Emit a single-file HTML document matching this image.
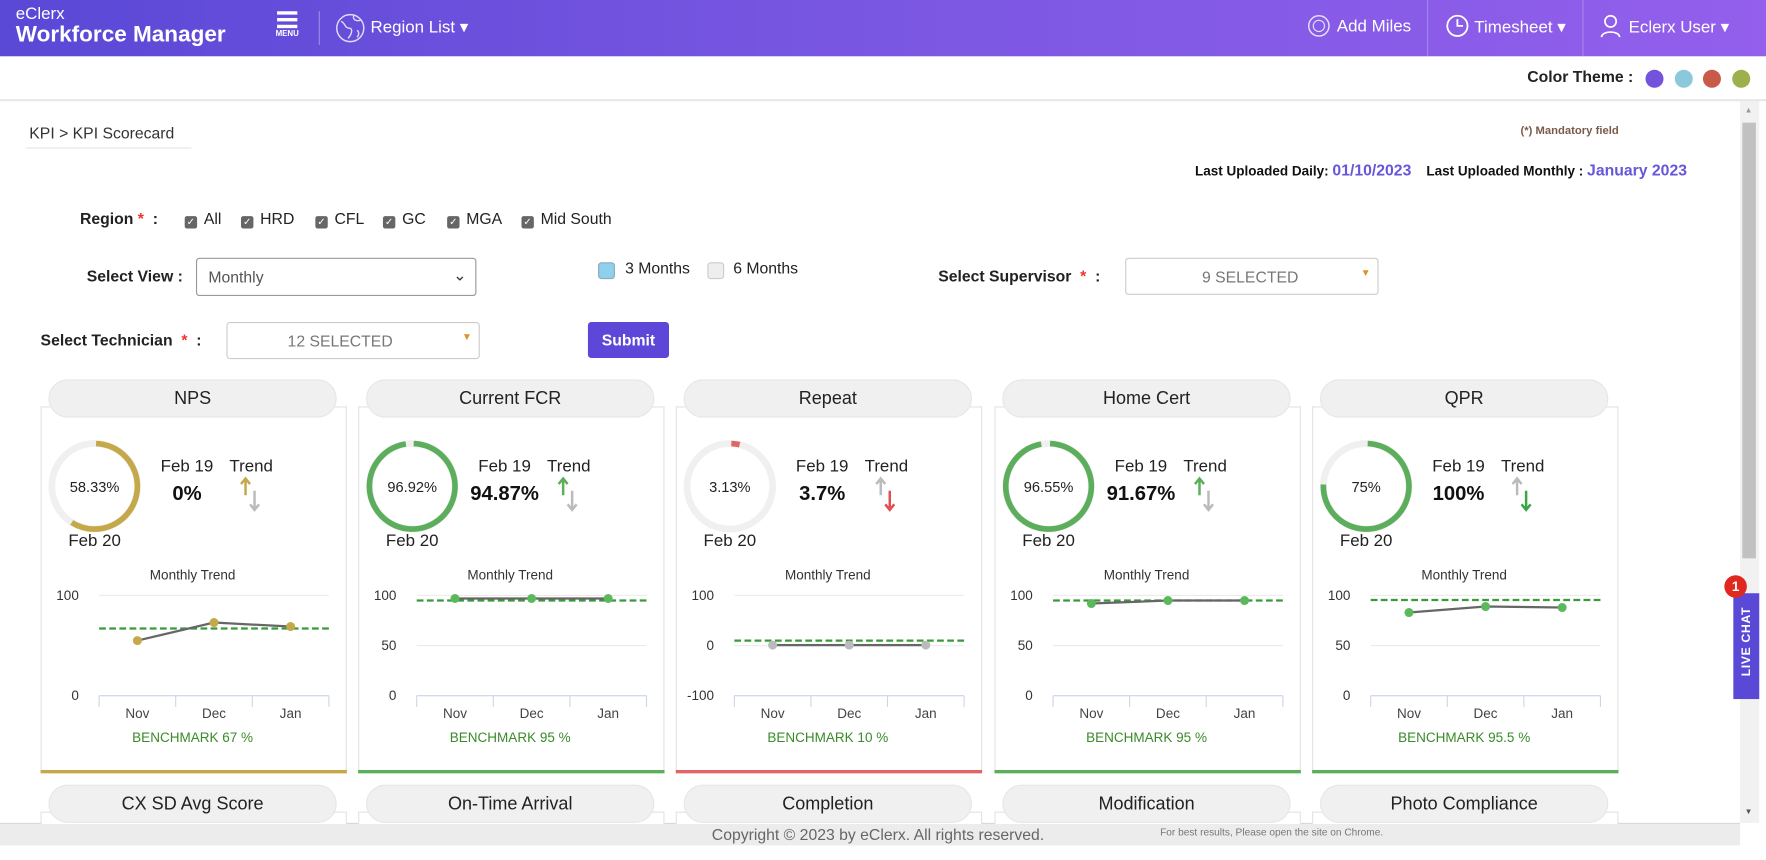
<!DOCTYPE html>
<html><head><meta charset="utf-8"><style>
html,body{margin:0;padding:0;width:1766px;height:860px;overflow:hidden;background:#fff;font-family:"Liberation Sans",Arial,sans-serif;}
#root{position:absolute;left:0;top:0;width:1568px;height:764px;transform:scale(1.12628,1.1257);transform-origin:0 0;}
.abs{position:absolute;}
.hdr{left:0;top:0;width:1568px;height:50px;background:linear-gradient(90deg,#5a48d6,#7a57e2 50%,#935fec);}
.w{color:#fff;}
.lbl{font-size:14px;color:#222;font-weight:bold;}
.box{border:1px solid #ccc;border-radius:3px;background:#fff;}
.cb{width:11px;height:11px;background:#666;border-radius:2px;color:#fff;font-size:9px;line-height:11px;text-align:center;}
.tab{height:34px;background:#f0f0f0;border-radius:17px;text-align:center;line-height:34px;font-size:16px;color:#222;border:1px solid #e6e6e6;box-sizing:border-box;}
.card{border:1px solid #e3e3e3;border-bottom:none;background:#fff;}
</style></head><body>
<div id="root">
<div class="abs hdr"></div>
<div class="abs w" style="left:14px;top:4px;font-size:15px;">eClerx</div>
<div class="abs w" style="left:14px;top:20px;font-size:20px;font-weight:bold;">Workforce Manager</div>
<div class="abs" style="left:243px;top:10px;width:24px;">
 <div style="margin-left:3px;width:18px;height:3px;background:#fff;margin-bottom:3px"></div><div style="margin-left:3px;width:18px;height:3px;background:#fff;margin-bottom:3px"></div><div style="margin-left:3px;width:18px;height:3px;background:#fff;"></div>
 <div style="color:#fff;font-size:7px;font-weight:bold;text-align:center;margin-top:2px">MENU</div></div>
<div class="abs" style="left:283px;top:10px;width:1px;height:30px;background:rgba(255,255,255,.35)"></div>
<svg class="abs" style="left:297px;top:11px" width="28" height="28"><circle cx="14" cy="14" r="12" fill="none" stroke="#fff" stroke-width="1.3" opacity=".8"/><path d="M6 8c4 2 3 6 7 6s2 6 -1 9M17 3c-1 4 3 5 6 4M20 16c2 1 2 4 0 6" fill="none" stroke="#fff" stroke-width="1.2" opacity=".8"/></svg>
<div class="abs w" style="left:329px;top:15px;font-size:15px;">Region List ▾</div>
<svg class="abs" style="left:1160px;top:12px" width="22" height="22"><circle cx="11" cy="11" r="9" fill="none" stroke="#fff" stroke-width="1.3" opacity=".8"/><circle cx="11" cy="11" r="5" fill="none" stroke="#fff" opacity=".8"/></svg>
<div class="abs w" style="left:1187px;top:15px;font-size:15px;">Add Miles</div>
<div class="abs" style="left:1267px;top:0;width:1px;height:50px;background:rgba(255,255,255,.25)"></div>
<svg class="abs" style="left:1283px;top:12px" width="22" height="22"><circle cx="11" cy="11" r="9" fill="none" stroke="#fff" stroke-width="1.6"/><path d="M11 5v6h5" fill="none" stroke="#fff" stroke-width="1.6"/></svg>
<div class="abs w" style="left:1309px;top:15px;font-size:15px;">Timesheet ▾</div>
<div class="abs" style="left:1405px;top:0;width:1px;height:50px;background:rgba(255,255,255,.25)"></div>
<svg class="abs" style="left:1420px;top:12px" width="20" height="22"><circle cx="10" cy="7" r="5" fill="none" stroke="#fff" stroke-width="1.5"/><path d="M2 21c0-6 16-6 16 0" fill="none" stroke="#fff" stroke-width="1.5"/></svg>
<div class="abs w" style="left:1446px;top:15px;font-size:15px;">Eclerx User ▾</div>

<div class="abs" style="left:1356px;top:60px;font-size:14px;font-weight:bold;color:#222">Color Theme :</div>
<div class="abs" style="left:1461px;top:62px;width:16px;height:16px;border-radius:50%;background:#7452dc"></div>
<div class="abs" style="left:1487px;top:62px;width:16px;height:16px;border-radius:50%;background:#8cc8dc"></div>
<div class="abs" style="left:1512px;top:62px;width:16px;height:16px;border-radius:50%;background:#c85a48"></div>
<div class="abs" style="left:1538px;top:62px;width:16px;height:16px;border-radius:50%;background:#9cb04c"></div>
<div class="abs" style="left:0;top:88px;width:1568px;height:2px;background:#e8e8e8"></div>
<div class="abs" style="left:1545px;top:90px;width:17px;height:641px;background:#f1f1f1"><div style="position:absolute;left:4px;top:5px;font-size:7px;color:#999">▲</div><div style="position:absolute;left:2px;top:19px;width:12px;height:387px;background:#c1c1c1"></div><div style="position:absolute;left:4px;top:628px;font-size:7px;color:#555">▼</div></div>

<div class="abs" style="left:26px;top:110px;font-size:14px;color:#333">KPI &gt; KPI Scorecard</div>
<div class="abs" style="left:23px;top:131px;width:147px;height:1px;background:#e6e6e6"></div>
<div class="abs" style="left:1350px;top:111px;font-size:10px;font-weight:bold;color:#7a5a4a">(*) Mandatory field</div>
<div class="abs" style="left:1061px;top:143px;font-size:12px;font-weight:bold;color:#111;white-space:nowrap">Last Uploaded Daily: <span style="color:#6656d8;font-size:14px">01/10/2023</span>&nbsp;&nbsp;&nbsp; Last Uploaded Monthly : <span style="color:#6656d8;font-size:14px">January 2023</span></div>

<div class="abs lbl" style="left:71px;top:186px;font-weight:bold">Region <span style="color:#e33">*</span> &nbsp;:</div>
<div id="regions"></div>
<div class="abs lbl" style="left:77px;top:237px">Select View :</div>
<div class="abs box" style="left:174px;top:229px;width:247px;height:32px;border-color:#999"><span style="position:absolute;left:10px;top:8px;font-size:14px;color:#555">Monthly</span><span style="position:absolute;right:8px;top:6px;font-size:14px;color:#333">⌄</span></div>
<div class="abs" style="left:531px;top:233px;width:13px;height:13px;border:1px solid #8ab;border-radius:3px;background:#8fd0ee"></div>
<div class="abs" style="left:555px;top:230px;font-size:14px;color:#222">3 Months</div>
<div class="abs" style="left:628px;top:233px;width:13px;height:13px;border:1px solid #ccc;border-radius:3px;background:#eee"></div>
<div class="abs" style="left:651px;top:230px;font-size:14px;color:#222">6 Months</div>
<div class="abs lbl" style="left:833px;top:237px">Select Supervisor &nbsp;<span style="color:#e33">*</span> &nbsp;:</div>
<div class="abs box" style="left:999px;top:229px;width:223px;height:31px"><span style="position:absolute;left:0;width:220px;text-align:center;top:8px;font-size:14px;color:#777">9 SELECTED</span><span style="position:absolute;right:6px;top:7px;font-size:9px;color:#e0902a">▼</span></div>
<div class="abs lbl" style="left:36px;top:294px">Select Technician &nbsp;<span style="color:#e33">*</span> &nbsp;:</div>
<div class="abs box" style="left:201px;top:286px;width:223px;height:31px"><span style="position:absolute;left:0;width:200px;text-align:center;top:8px;font-size:14px;color:#777">12 SELECTED</span><span style="position:absolute;right:6px;top:7px;font-size:9px;color:#e0902a">▼</span></div>
<div class="abs" style="left:522px;top:286px;width:72px;height:32px;background:#5c47d8;border-radius:3px;color:#fff;font-weight:bold;font-size:14px;text-align:center;line-height:32px">Submit</div>

<div id="cards"></div>
<div id="row2"></div>
<div class="abs" style="left:0;top:731px;width:1545px;height:19px;background:#ececec;border-top:1px solid #d8d8d8"></div>
<div class="abs" style="left:632px;top:733px;font-size:14px;color:#666">Copyright © 2023 by eClerx. All rights reserved.</div>
<div class="abs" style="left:1030px;top:734px;font-size:9px;color:#777">For best results, Please open the site on Chrome.</div>
<div class="abs" style="left:1539px;top:527px;width:23px;height:94px;background:#5a48d6"><div style="position:absolute;left:-30px;top:37px;width:84px;transform:rotate(-90deg);color:#fff;font-size:11px;font-weight:bold;text-align:center;letter-spacing:.5px">LIVE CHAT</div></div>
<div class="abs" style="left:1531px;top:511px;width:20px;height:20px;border-radius:50%;background:#e0281e;color:#fff;font-size:12px;font-weight:bold;text-align:center;line-height:20px">1</div>
</div>
<script>
const kpiNames=["NPS","Current FCR","Repeat","Home Cert","QPR"];
const currentVals=[58.33,96.92,3.13,96.55,75];
const feb19Vals=["0%","94.87%","3.7%","91.67%","100%"];
const months=["Nov","Dec","Jan"];
const npsSeries=[55,73,69];
const fcrSeries=[97,97,97];
const repeatSeries=[1,1,1];
const homeSeries=[92,95,95];
const qprSeries=[83,89,88];
const benchmarks=[67,95,10,95,95.5];
const yTicksNps=[100,0];
const yTicksPct=[100,50,0];
const yTicksRepeat=[100,0,-100];
const row2Names=["CX SD Avg Score","On-Time Arrival","Completion","Modification","Photo Compliance"];
const regionNames=["All","HRD","CFL","GC","MGA","Mid South"];

const series=[npsSeries,fcrSeries,repeatSeries,homeSeries,qprSeries];
const ticks=[yTicksNps,yTicksPct,yTicksRepeat,yTicksPct,yTicksPct];
const colors=["#c4a84a","#5cae5c","#e06666","#5cae5c","#5cae5c"];
const ptColors=["#c4a84a","#5cb85c","#bbbbbb","#5cb85c","#5cb85c"];
const upC=["#c4a84a","#5cae5c","#bbb","#5cae5c","#bbb"];
const dnC=["#bbb","#bbb","#e05050","#bbb","#3aa548"];
const cardX=[36,318,600,883,1165];
const NS="http://www.w3.org/2000/svg";
const root=document.getElementById('root');

let rx=[164,214,280,340,397,463];
regionNames.forEach((n,i)=>{
 const d=document.createElement('div');d.className='abs';d.style.left=rx[i]+'px';d.style.top='186px';d.style.fontSize='14px';d.style.color='#222';
 d.innerHTML='<span class="cb" style="display:inline-block;vertical-align:-1px;margin-right:6px">✓</span>'+n;
 
 
 root.appendChild(d);
});

function el(tag,attrs){const e=document.createElementNS(NS,tag);for(const k in attrs)e.setAttribute(k,attrs[k]);return e;}

kpiNames.forEach((name,i)=>{
 const x0=cardX[i];
 const card=document.createElement('div');card.className='abs card';
 card.style.cssText=`left:${x0}px;top:361px;width:270px;height:323px;`;
 
 
 root.appendChild(card);
 const bar=document.createElement('div');bar.className='abs';bar.style.cssText=`left:${x0}px;top:684px;width:272px;height:3px;background:${colors[i]}`;
 
 
 root.appendChild(bar);
 const tab=document.createElement('div');tab.className='abs tab';tab.style.cssText+=`left:${x0+7}px;top:337px;width:256px;`;tab.textContent=name;
 
 
 root.appendChild(tab);

 const svg=el('svg',{width:270,height:320});svg.style.cssText=`position:absolute;left:${x0}px;top:362px;overflow:visible`;
 
 
 root.appendChild(svg);
 const cx=48,cy=70,r=38,circ=2*Math.PI*r;
 svg.appendChild(el('circle',{cx,cy,r,fill:'none',stroke:'#f0f0f0','stroke-width':6}));
 const arc=el('circle',{cx,cy,r,fill:'none',stroke:colors[i],'stroke-width':5,'stroke-dasharray':`${circ*currentVals[i]/100} ${circ}`,transform:`rotate(-88 ${cx} ${cy})`});
 
 
 svg.appendChild(arc);
 const t=(x,y,s,opts)=>{const e=el('text',Object.assign({x,y,'font-size':13,'text-anchor':'middle',fill:'#222','font-family':'Liberation Sans, sans-serif'},opts||{}));e.textContent=s;svg.appendChild(e);return e;};
 t(cx,cy+5,currentVals[i]+'%');
 t(cx,123,'Feb 20',{'font-size':15});
 t(130,57,'Feb 19',{'font-size':15});
 t(130,82,feb19Vals[i],{'font-size':18,'font-weight':'bold',fill:'#111'});
 t(187,57,'Trend',{'font-size':15});
 svg.appendChild(el('path',{d:'M182 64v14M178 68l4-5 4 5',stroke:upC[i],'stroke-width':2.2,fill:'none'}));
 svg.appendChild(el('path',{d:'M190 74v16M186 86l4 5 4-5',stroke:dnC[i],'stroke-width':2.2,fill:'none'}));
 t(135,153,'Monthly Trend',{'font-size':12,fill:'#333'});
 const L=52,R=256,T=167,B=256;
 const tk=ticks[i],ymax=tk[0],ymin=tk[tk.length-1];
 const ys=v=>B-(v-ymin)/(ymax-ymin)*(B-T);
 const xs=j=>L+(R-L)*(j+0.5)/months.length;
 tk.forEach(v=>{svg.appendChild(el('line',{x1:L,x2:R,y1:ys(v),y2:ys(v),stroke:'#ececec'}));t(L-18,ys(v)+4,String(v),{'font-size':12,fill:'#333','text-anchor':'end'});});
 svg.appendChild(el('line',{x1:L,x2:R,y1:B,y2:B,stroke:'#ccd6eb'}));
 for(let j=0;j<=months.length;j++){const xx=L+(R-L)*j/months.length;svg.appendChild(el('line',{x1:xx,x2:xx,y1:B,y2:B+10,stroke:'#ccd6eb'}));}
 months.forEach((m,j)=>t(xs(j),B+20,m,{'font-size':12,fill:'#444'}));
 const bl=el('line',{x1:L,x2:R,y1:ys(benchmarks[i]),y2:ys(benchmarks[i]),stroke:'#3a9a3a','stroke-width':2,'stroke-dasharray':'6 3'});
 
 
 svg.appendChild(bl);
 const pts=series[i].map((v,j)=>[xs(j),ys(v)]);
 const ln=el('polyline',{points:pts.map(p=>p.join(',')).join(' '),fill:'none',stroke:'#666','stroke-width':2});
 
 
 svg.appendChild(ln);
 pts.forEach(p=>{const c=el('circle',{cx:p[0],cy:p[1],r:4,fill:ptColors[i]});
  
  
  svg.appendChild(c);});
 t(135,297,'BENCHMARK '+benchmarks[i]+' %',{'font-size':12,fill:'#3a8a2a'});
});
row2Names.forEach((n,i)=>{
 const x0=cardX[i];
 const c=document.createElement('div');c.className='abs card';c.style.cssText=`left:${x0}px;top:721px;width:270px;height:10px;`;root.appendChild(c);
 const tab=document.createElement('div');tab.className='abs tab';tab.style.cssText+=`left:${x0+7}px;top:697px;width:256px;`;tab.textContent=n;
 
 
 root.appendChild(tab);
});
</script>
</body></html>
